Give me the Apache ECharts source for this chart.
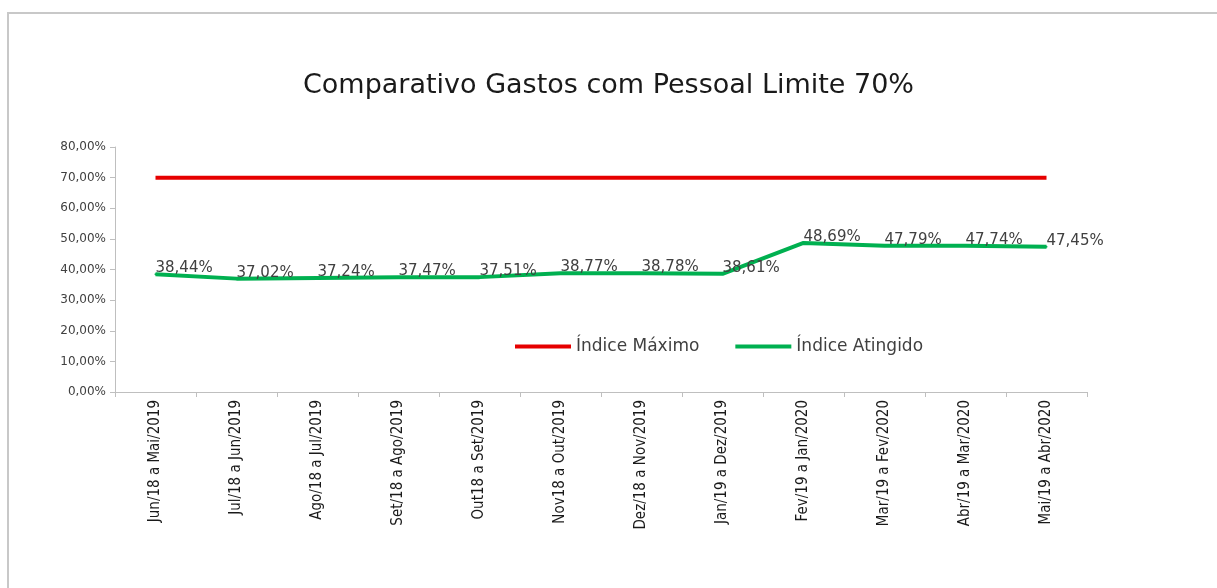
<!DOCTYPE html>
<html>
<head>
<meta charset="utf-8">
<script src="https://cdn.jsdelivr.net/npm/echarts@6/dist/echarts.min.js"></script>
<style>
  html, body { margin: 0; padding: 0; background: #fff; }
  /* moldura cinza clara do gráfico */
  .frame {
    position: absolute; left: 7px; top: 12px; width: 1300px; height: 700px;
    border: 2px solid #c8c8c8; box-sizing: border-box;
  }
  #chart { position: absolute; left: 0; top: 0; width: 1217px; height: 588px; }
</style>
</head>
<body>
<div class="frame"></div>
<div id="chart"></div>
<script>
// períodos (eixo x)
const periodos = [
  'Jun/18 a Mai/2019', 'Jul/18 a Jun/2019', 'Ago/18 a Jul/2019', 'Set/18 a Ago/2019',
  'Out18 a Set/2019', 'Nov18 a Out/2019', 'Dez/18 a Nov/2019', 'Jan/19 a Dez/2019',
  'Fev/19 a Jan/2020', 'Mar/19 a Fev/2020', 'Abr/19 a Mar/2020', 'Mai/19 a Abr/2020'
]

// limite de 70%
const indiceMaximo = [0.70, 0.70, 0.70, 0.70, 0.70, 0.70, 0.70, 0.70, 0.70, 0.70, 0.70, 0.70]

// índice atingido
const indiceAtingido = [0.3844, 0.3702, 0.3724, 0.3747, 0.3751, 0.3877, 0.3878, 0.3861, 0.4869, 0.4779, 0.4774, 0.4745]

const fmtPct = v => (v * 100).toFixed(2).replace('.', ',') + '%'

const chart = echarts.init(document.getElementById('chart'))

const option = {
  backgroundColor: 'transparent',
  animation: false,
  title: {
    text: 'Comparativo Gastos com Pessoal Limite 70%',
    left: 'center',
    top: 67,
    textStyle: {
      fontFamily: 'DejaVu Sans',
      fontSize: 27,
      fontWeight: 'normal',
      color: '#1a1a1a'
    }
  },
  legend: {
    left: 510,
    top: 333,
    itemWidth: 56,
    itemHeight: 4,
    itemGap: 36,
    icon: 'rect',
    textStyle: {
      fontFamily: 'DejaVu Sans',
      fontSize: 17,
      color: '#404040'
    },
    data: ['Índice Máximo', 'Índice Atingido']
  },
  grid: {
    left: 115,
    right: 130,
    top: 147,
    bottom: 196,
    containLabel: false
  },
  xAxis: {
    type: 'category',
    data: periodos,
    boundaryGap: true,
    axisLine: { lineStyle: { color: '#bfbfbf', width: 1 } },
    axisTick: { show: true, length: 5, lineStyle: { color: '#bfbfbf' } },
    axisLabel: {
      rotate: 90,
      interval: 0,
      margin: 8,
      fontFamily: 'Liberation Sans Narrow, Arial Narrow, DejaVu Sans Condensed, sans-serif',
      fontSize: 15,
      color: '#1a1a1a'
    }
  },
  yAxis: {
    type: 'value',
    min: 0,
    max: 0.8,
    interval: 0.1,
    axisLine: { show: true, lineStyle: { color: '#bfbfbf', width: 1 } },
    axisTick: { show: true, length: 5, lineStyle: { color: '#bfbfbf' } },
    splitLine: { show: false },
    axisLabel: {
      margin: 9,
      fontFamily: 'DejaVu Sans',
      fontSize: 12,
      color: '#404040',
      formatter: v => fmtPct(v)
    }
  },
  series: [
    {
      name: 'Índice Máximo',
      type: 'line',
      data: indiceMaximo,
      symbol: 'none',
      color: '#e60000',
      lineStyle: { width: 4, color: '#e60000' }
    },
    {
      name: 'Índice Atingido',
      type: 'line',
      data: indiceAtingido,
      // símbolo pequeno, escondido sob a linha, para os rótulos aparecerem
      symbol: 'circle',
      symbolSize: 2,
      showSymbol: true,
      color: '#00b050',
      itemStyle: { color: '#00b050' },
      lineStyle: { width: 4, color: '#00b050' },
      label: {
        show: true,
        position: [1, -5],
        align: 'left',
        verticalAlign: 'middle',
        fontFamily: 'DejaVu Sans',
        fontSize: 15,
        color: '#404040',
        formatter: p => fmtPct(p.value)
      },
      labelLayout: { hideOverlap: false }
    }
  ]
}

chart.setOption(option)
</script>
</body>
</html>
